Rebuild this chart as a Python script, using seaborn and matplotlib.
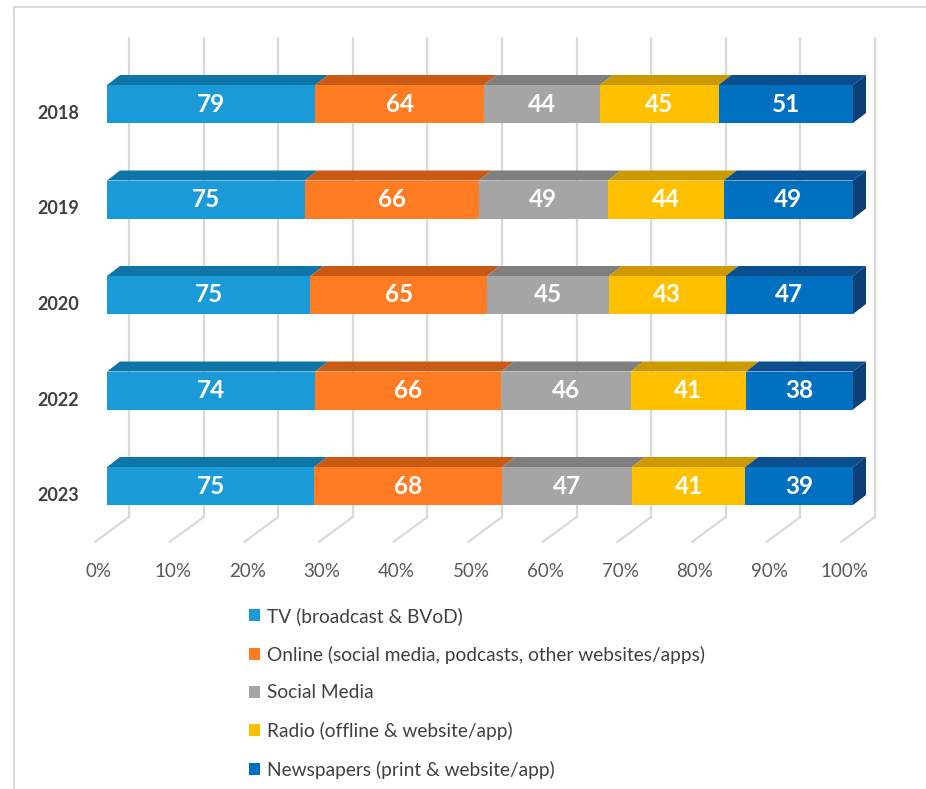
import numpy as np
import pandas as pd
import matplotlib
matplotlib.use("Agg")
import matplotlib.pyplot as plt
from matplotlib.patches import Polygon, Patch, Rectangle
from matplotlib.lines import Line2D
from matplotlib.transforms import ScaledTranslation
import seaborn as sns

# ---- data -------------------------------------------------------------
years = ["2018", "2019", "2020", "2022", "2023"]
series = [
    "TV (broadcast & BVoD)",
    "Online (social media, podcasts, other websites/apps)",
    "Social Media",
    "Radio (offline & website/app)",
    "Newspapers (print & website/app)",
]
tv = [79, 75, 75, 74, 75]
online = [64, 66, 65, 66, 68]
social = [44, 49, 45, 46, 47]
radio = [45, 44, 43, 41, 41]
newspapers = [51, 49, 47, 38, 39]
tick_labels = ["0%", "10%", "20%", "30%", "40%", "50%", "60%", "70%", "80%", "90%", "100%"]

front_colors = ["#1A9BD7", "#FF7C22", "#A5A5A5", "#FFC000", "#0070C0"]
top_colors = ["#0E75A6", "#C95A14", "#7F7F7F", "#CC9A00", "#0B4F8F"]
side_color = "#0A3F78"

sns.set_theme(style="white")
plt.rcParams["font.family"] = ["Lato", "DejaVu Sans"]

values = np.array([tv, online, social, radio, newspapers], dtype=float)
shares = values / values.sum(axis=0) * 100.0
cum = np.cumsum(shares, axis=0)
starts = cum - shares

df = pd.DataFrame({"Year": years})
for i in range(len(series)):
    df[f"cum{i}"] = cum[i]

W, H, DPI = 926, 789, 100
fig = plt.figure(figsize=(W / DPI, H / DPI), dpi=DPI)

# axes placed in pixel terms: x 0..100 -> 107..853 px, y rows centred 104 + 95.5*k
ax_left, ax_right = 107, 853
ax_top, ax_bottom = 30, 545
row0, row_step = 104.0, 95.5
ax = fig.add_axes([ax_left / W, 1 - ax_bottom / H, (ax_right - ax_left) / W, (ax_bottom - ax_top) / H])

px_per_x = (ax_right - ax_left) / 100.0


def ypix(p):
    return (p - row0) / row_step


bar_h = 38 / row_step

# stacked bars: overlay cumulative totals from the longest to the shortest
for i in reversed(range(len(series))):
    sns.barplot(data=df, x=f"cum{i}", y="Year", order=years, orient="h",
                color=front_colors[i], saturation=1, width=bar_h,
                linewidth=0, ax=ax, zorder=3)

ax.set_xlim(0, 100)
ax.set_ylim(ypix(ax_bottom), ypix(ax_top))

# back wall grid and floor
back_dx = 22 / px_per_x
front_dx = -12 / px_per_x
grid_kw = dict(color="#D9D9D9", lw=1.6, clip_on=False, zorder=1)
for k in range(11):
    xb = k * 10 + back_dx
    ax.add_line(Line2D([xb, xb], [ypix(38), ypix(517)], **grid_kw))
    ax.add_line(Line2D([xb, k * 10 + front_dx], [ypix(517), ypix(542)], **grid_kw))

# 3D faces of the bars
dx = 13 / px_per_x
dy = 10 / row_step
for r in range(len(years)):
    yt = r - bar_h / 2
    yb = r + bar_h / 2
    for i in range(len(series)):
        x0, x1 = starts[i, r], cum[i, r]
        ax.add_patch(Polygon([(x0, yt), (x1, yt), (x1 + dx, yt - dy), (x0 + dx, yt - dy)],
                             closed=True, facecolor=top_colors[i], edgecolor="none",
                             clip_on=False, zorder=4))
        ax.text((x0 + x1) / 2, r, f"{values[i, r]:.0f}", ha="center", va="center",
                color="white", fontsize=17.5, fontweight="bold", zorder=6)
    xe = cum[-1, r]
    ax.add_patch(Polygon([(xe, yt), (xe + dx, yt - dy), (xe + dx, yb - dy), (xe, yb)],
                         closed=True, facecolor=side_color, edgecolor="none",
                         clip_on=False, zorder=4))

# axes styling
sns.despine(ax=ax, left=True, bottom=True)
ax.set_xlabel("")
ax.set_ylabel("")
ax.grid(False)
ax.tick_params(axis="y", length=0, pad=20, labelsize=13, labelcolor="#404040")
for lab in ax.get_yticklabels():
    lab.set_fontweight("bold")
    lab.set_transform(lab.get_transform() + ScaledTranslation(0, -8 / DPI, fig.dpi_scale_trans))

ax.set_xticks(np.arange(0, 101, 10))
ax.set_xticklabels(tick_labels)
ax.tick_params(axis="x", length=0, pad=13, labelsize=13.5, labelcolor="#595959")
for lab in ax.get_xticklabels():
    lab.set_transform(lab.get_transform() + ScaledTranslation(-9 / DPI, 0, fig.dpi_scale_trans))

# legend below the plot
handles = [Patch(facecolor=c, edgecolor="none") for c in front_colors]
leg = fig.legend(handles, series, loc="upper left",
                 bbox_to_anchor=(249 / W, 1 - 607 / H), frameon=False,
                 fontsize=13.8, labelcolor="#404040", handlelength=0.6,
                 handleheight=0.6, handletextpad=0.35, labelspacing=1.08,
                 borderaxespad=0, borderpad=0)

# thin frame around the chart area
fig.add_artist(Rectangle((13.5 / W, -0.05), 1.2, (1 - 7 / H) + 0.05,
                         transform=fig.transFigure, fill=False,
                         edgecolor="#D9D9D9", lw=1.5))

fig.savefig("out.png", dpi=DPI, facecolor="white")
